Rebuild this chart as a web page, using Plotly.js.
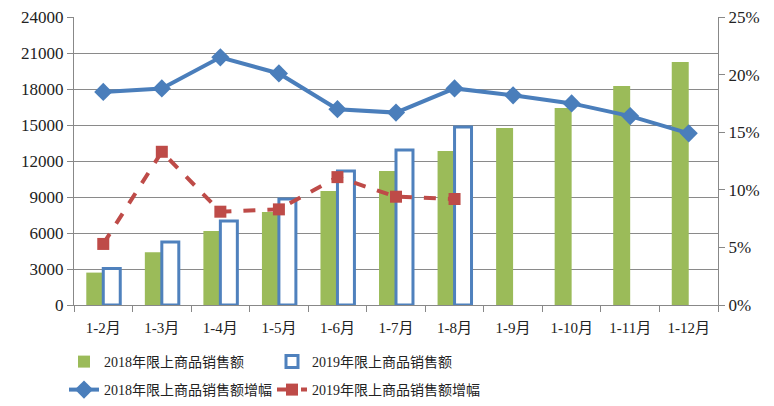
<!DOCTYPE html>
<html>
<head>
<meta charset="utf-8">
<script src="https://cdn.plot.ly/plotly-3.0.1.min.js"></script>
<style>html,body{margin:0;padding:0;background:#fff;}#chart{width:774px;height:406px;}</style>
</head>
<body>
<div id="chart"></div>
<script>
const categories = ["1-2月","1-3月","1-4月","1-5月","1-6月","1-7月","1-8月","1-9月","1-10月","1-11月","1-12月"];
const sales2018 = [2700, 4400, 6170, 7750, 9500, 11170, 12830, 14750, 16420, 18250, 20250];
const sales2019 = [3050, 5250, 7000, 8830, 11170, 12920, 14830];
const growth2018 = [18.5, 18.8, 21.5, 20.1, 17.0, 16.7, 18.8, 18.2, 17.5, 16.4, 14.9];
const growth2019 = [5.3, 13.3, 8.1, 8.3, 11.1, 9.4, 9.2];
const leftTicks = [0, 3000, 6000, 9000, 12000, 15000, 18000, 21000, 24000];
const rightTicks = [0, 5, 10, 15, 20, 25];
const names = ["2018年限上商品销售额","2019年限上商品销售额","2018年限上商品销售额增幅","2019年限上商品销售额增幅"];

const fontFam = "'Liberation Serif', 'Noto Sans CJK SC', serif";
const traces = [
  {type:"bar", name:names[0], x:categories, y:sales2018, marker:{color:"#9BBB59"}, legend:"legend"},
  {type:"bar", name:names[1], x:categories.slice(0, sales2019.length), y:sales2019,
   marker:{color:"#FFFFFF", line:{color:"#4F81BD", width:3}}, legend:"legend2"},
  {type:"scatter", mode:"lines+markers", name:names[2], x:categories, y:growth2018, yaxis:"y2",
   line:{color:"#4A7EBB", width:4}, marker:{symbol:"diamond", size:14, color:"#4A7EBB"}, legend:"legend3"},
  {type:"scatter", mode:"lines+markers", name:names[3], x:categories.slice(0, growth2019.length), y:growth2019, yaxis:"y2",
   line:{color:"#BE4B48", width:4, dash:"dash"}, marker:{symbol:"square", size:12, color:"#BE4B48"}, legend:"legend4"}
];

function leg(xpx, ypx) {
  return {orientation:"h", xref:"container", x:xpx/774, xanchor:"left", yref:"container", y:1 - ypx/406, yanchor:"top",
    itemwidth:30, font:{family:fontFam, size:14, color:"#222"}, bgcolor:"rgba(0,0,0,0)"};
}

const layout = {
  width:774, height:406,
  margin:{l:74, r:56, t:17, b:101, autoexpand:false},
  paper_bgcolor:"#fff", plot_bgcolor:"#fff",
  font:{family:fontFam, size:16, color:"#222"},
  barmode:"group", bargap:0.42, bargroupgap:0,
  showlegend:true,
  xaxis:{type:"category", range:[-0.5,10.5], showline:true, linecolor:"#888", linewidth:1,
    ticks:"outside", tickson:"boundaries", ticklen:6, tickcolor:"#888", showgrid:false, ticklabelstandoff:9,
    tickfont:{family:fontFam, size:15, color:"#222"}, fixedrange:true},
  yaxis:{range:[0,24000], tickmode:"array", tickvals:leftTicks, ticktext:leftTicks.map(String),
    showline:true, linecolor:"#888", ticks:"outside", ticklen:6, tickcolor:"#888",
    showgrid:true, gridcolor:"#8a8a8a", gridwidth:1, zeroline:false,
    tickfont:{family:fontFam, size:17, color:"#222"}},
  yaxis2:{overlaying:"y", side:"right", range:[0,25], tickmode:"array", tickvals:rightTicks,
    ticktext:rightTicks.map(v => v + "%"),
    showline:true, linecolor:"#888", ticks:"outside", ticklen:6, tickcolor:"#888",
    showgrid:false, zeroline:false, tickfont:{family:fontFam, size:17, color:"#222"}},
  legend: leg(64, 346),
  legend2: leg(272, 346),
  legend3: leg(64, 374),
  legend4: leg(272, 374)
};

Plotly.newPlot("chart", traces, layout, {displayModeBar:false, staticPlot:true});
</script>
</body>
</html>
